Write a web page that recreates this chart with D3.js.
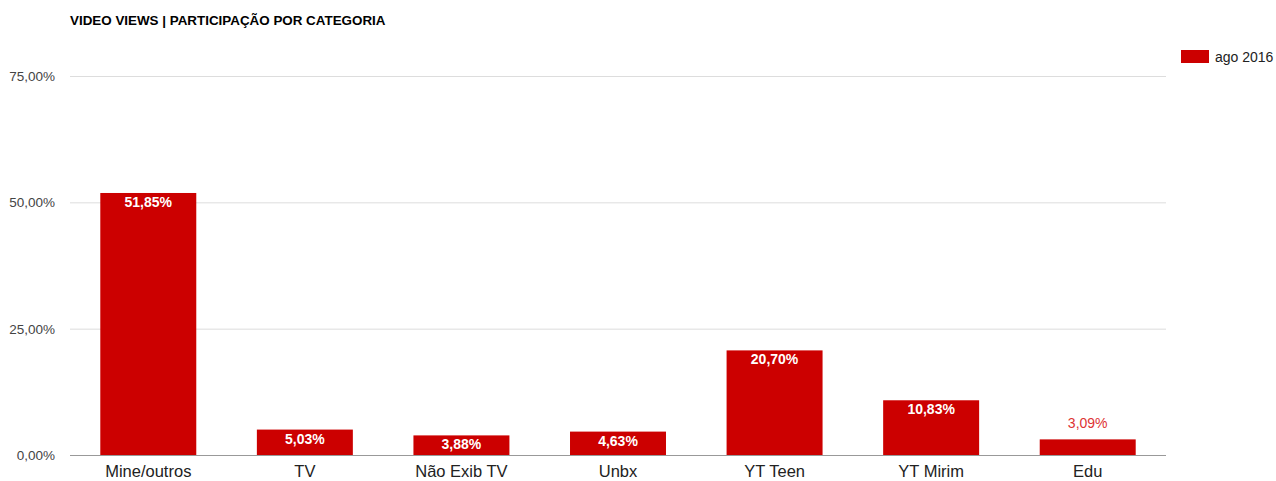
<!DOCTYPE html>
<html><head><meta charset="utf-8">
<script src="https://cdn.jsdelivr.net/npm/d3@7"></script>
<style>body{margin:0;background:#fff}svg{display:block;font-family:"Liberation Sans",Arial,sans-serif}</style>
</head><body><svg id="c" width="1276" height="481"></svg>
<script>
const categories = ["Mine/outros","TV","Não Exib TV","Unbx","YT Teen","YT Mirim","Edu"];
const values = [51.85,5.03,3.88,4.63,20.70,10.83,3.09];
const yTicks = [0,25,50,75];
const seriesName = "ago 2016";
const title = "VIDEO VIEWS | PARTICIPAÇÃO POR CATEGORIA";

const svg = d3.select("#c");
const L=70,R=1166,T=76,B=455;
const fmt = v => v.toFixed(2).replace(".",",")+"%";
const x = d3.scaleBand().domain(categories).range([L,R]).paddingInner(0.387).paddingOuter(0.1935);
const y = d3.scaleLinear().domain([0,75]).range([B,T]);
const red="#cc0000";
const inside = d => (B-y(d))>17;

svg.append("text").attr("x",70).attr("y",25).attr("font-size",13.4).attr("font-weight","bold").attr("fill","#000").text(title);

svg.append("g").selectAll("line").data(yTicks.filter(d=>d>0)).join("line")
  .attr("x1",L).attr("x2",R).attr("y1",d=>y(d)+0.5).attr("y2",d=>y(d)+0.5).attr("stroke","#dddddd");
svg.append("g").selectAll("text").data(yTicks).join("text")
  .attr("x",55).attr("y",d=>y(d)+5).attr("text-anchor","end").attr("font-size",13.5).attr("fill","#444").text(d=>fmt(d));

svg.append("g").selectAll("rect").data(values).join("rect")
  .attr("x",(d,i)=>x(categories[i])).attr("width",x.bandwidth())
  .attr("y",d=>y(d)).attr("height",d=>B-y(d)).attr("fill",red);

svg.append("line").attr("x1",L).attr("x2",R).attr("y1",B+0.5).attr("y2",B+0.5).attr("stroke","#999");

svg.append("g").selectAll("text").data(categories).join("text")
  .attr("x",d=>x(d)+x.bandwidth()/2).attr("y",477).attr("text-anchor","middle").attr("font-size",16.5).attr("fill","#222").text(d=>d);

svg.append("g").selectAll("text").data(values).join("text")
  .attr("x",(d,i)=>x(categories[i])+x.bandwidth()/2)
  .attr("y",d=> inside(d) ? y(d)+14 : y(d)-11)
  .attr("text-anchor","middle").attr("font-size",14)
  .attr("font-weight",d=>inside(d)?"bold":"normal")
  .attr("fill",d=>inside(d)?"#fff":"#dd3333").text(d=>fmt(d));

svg.append("rect").attr("x",1181).attr("y",50).attr("width",28).attr("height",13).attr("fill",red);
svg.append("text").attr("x",1215).attr("y",62).attr("font-size",14).attr("fill","#222").text(seriesName);
</script></body></html>
